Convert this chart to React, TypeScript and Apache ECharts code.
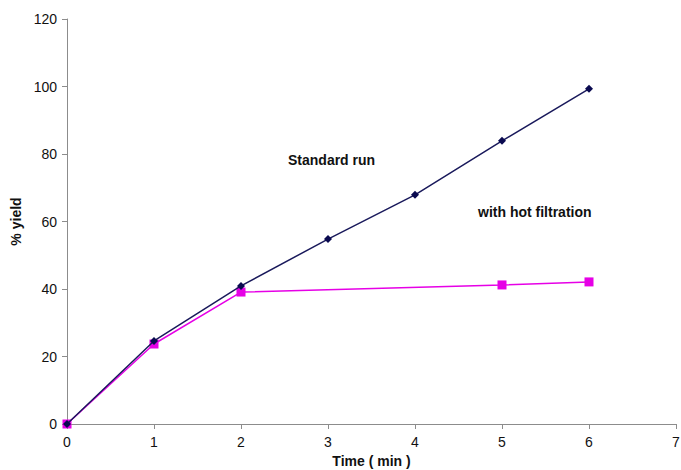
import React, { useEffect, useRef } from "react";
import * as echarts from "echarts";

const timeStandard = [0, 1, 2, 3, 4, 5, 6];
const yieldStandard = [0, 24.6, 40.9, 54.8, 67.9, 83.9, 99.3];
const timeHot = [0, 1, 2, 5, 6];
const yieldHot = [0, 23.7, 39.1, 41.2, 42.1];

export default function App() {
  const ref = useRef<HTMLDivElement>(null);
  useEffect(() => {
    const chart = echarts.init(ref.current!, null, { renderer: "svg" });
    const font = "Liberation Sans, Arial";
    const axisCommon = {
      axisLine: { show: true, lineStyle: { color: "#8c8c8c", width: 1 } },
      axisTick: { show: true, length: 5, lineStyle: { color: "#8c8c8c" } },
      splitLine: { show: false },
    };
    chart.setOption({
      animation: false,
      backgroundColor: "#fff",
      grid: { left: 67, right: 5, top: 19, bottom: 46, containLabel: false, outerBoundsMode: "none" },
      xAxis: {
        type: "value",
        min: 0,
        max: 7,
        interval: 1,
        name: "Time ( min )",
        nameLocation: "middle",
        nameGap: 29,
        nameTextStyle: { fontSize: 14, fontWeight: "bold", color: "#111", fontFamily: font },
        ...axisCommon,
        axisLabel: { color: "#111", fontSize: 14, fontFamily: font, margin: 11 },
      },
      yAxis: {
        type: "value",
        min: 0,
        max: 120,
        interval: 20,
        name: "% yield",
        nameLocation: "middle",
        nameGap: 42,
        nameTextStyle: { fontSize: 14, fontWeight: "bold", color: "#111", fontFamily: font },
        ...axisCommon,
        axisLabel: { color: "#111", fontSize: 14, fontFamily: font, margin: 10 },
      },
      series: [
        {
          type: "line",
          name: "Standard run",
          data: timeStandard.map((t, i) => [t, yieldStandard[i]]),
          symbol: "diamond",
          symbolSize: 8,
          itemStyle: { color: "#0a0a50" },
          lineStyle: { color: "#1a1a5c", width: 1.5 },
          z: 3,
        },
        {
          type: "line",
          name: "with hot filtration",
          data: timeHot.map((t, i) => [t, yieldHot[i]]),
          symbol: "rect",
          symbolSize: 9,
          itemStyle: { color: "#e600e6" },
          lineStyle: { color: "#e600e6", width: 1.5 },
          z: 2,
        },
      ],
      graphic: [
        {
          type: "text",
          left: 288,
          top: 153,
          style: { text: "Standard run", fontSize: 14, fontWeight: "bold", fill: "#111", fontFamily: font },
        },
        {
          type: "text",
          left: 478,
          top: 205,
          style: { text: "with hot filtration", fontSize: 14, fontWeight: "bold", fill: "#111", fontFamily: font },
        },
      ],
    });
    return () => chart.dispose();
  }, []);
  return <div ref={ref} style={{ position: "fixed", left: 0, top: 0, width: 681, height: 470 }} />;
}
